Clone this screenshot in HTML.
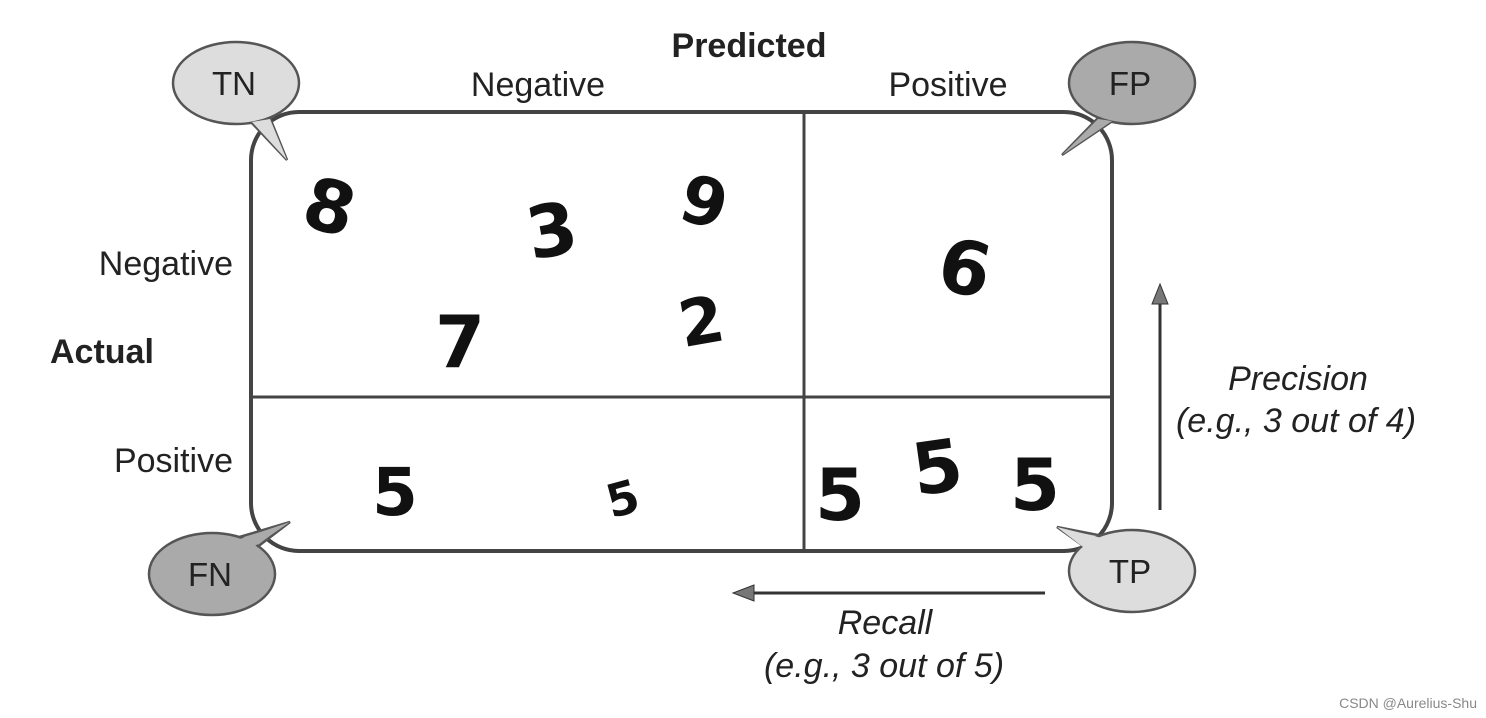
<!DOCTYPE html>
<html><head><style>
body{margin:0;background:#fff;}
svg{display:block;}
text{font-family:"Liberation Sans",sans-serif;fill:#222;}
.d{font-family:"DejaVu Sans","Liberation Sans",sans-serif;font-weight:bold;fill:#111;}
</style></head><body>
<svg width="1486" height="718" viewBox="0 0 1486 718">
<rect x="251" y="112" width="861" height="439" rx="48" fill="none" stroke="#444" stroke-width="4"/>
<line x1="804" y1="112" x2="804" y2="551" stroke="#444" stroke-width="3"/>
<line x1="251" y1="397" x2="1112" y2="397" stroke="#444" stroke-width="3"/>

<text x="749" y="57" font-size="34" font-weight="bold" text-anchor="middle">Predicted</text>
<text x="538" y="96" font-size="34" text-anchor="middle">Negative</text>
<text x="948" y="96" font-size="34" text-anchor="middle">Positive</text>
<text x="233" y="275" font-size="34" text-anchor="end">Negative</text>
<text x="233" y="472" font-size="34" text-anchor="end">Positive</text>
<text x="50" y="363" font-size="34" font-weight="bold">Actual</text>
<text x="1298" y="390" font-size="34" font-style="italic" text-anchor="middle">Precision</text>
<text x="1296" y="432" font-size="34" font-style="italic" text-anchor="middle">(e.g., 3 out of 4)</text>
<text x="885" y="634" font-size="34" font-style="italic" text-anchor="middle">Recall</text>
<text x="884" y="677" font-size="34" font-style="italic" text-anchor="middle">(e.g., 3 out of 5)</text>
<text x="1477" y="708" font-size="14" text-anchor="end" style="fill:#888">CSDN @Aurelius-Shu</text>

<!-- arrows -->
<line x1="1160" y1="510" x2="1160" y2="300" stroke="#333" stroke-width="3"/>
<polygon points="1160,284 1152,304 1168,304" fill="#777" stroke="#333" stroke-width="1"/>
<line x1="1045" y1="593" x2="750" y2="593" stroke="#333" stroke-width="3"/>
<polygon points="733,593 754,585 754,601" fill="#777" stroke="#333" stroke-width="1"/>

<!-- bubbles -->
<g stroke="#555" stroke-width="2.5">
<path d="M270,118 L287,160 L250,121" fill="#ddd"/>
<ellipse cx="236" cy="83" rx="63" ry="41" fill="#ddd"/>
<path d="M1098,118 L1062,155 L1114,120" fill="#aaa"/>
<ellipse cx="1132" cy="83" rx="63" ry="41" fill="#aaa"/>
<path d="M236,538 L290,522 L256,548" fill="#aaa"/>
<ellipse cx="212" cy="574" rx="63" ry="41" fill="#aaa"/>
<path d="M1082,545 L1057,527 L1103,536" fill="#ddd"/>
<ellipse cx="1132" cy="571" rx="63" ry="41" fill="#ddd"/>
</g>
<g stroke="none">
<path d="M270,119 L287,160 L252,122 Z" fill="#ddd"/>
<path d="M1098,119 L1062,155 L1112,121 Z" fill="#aaa"/>
<path d="M237,540 L290,522 L255,546 Z" fill="#aaa"/>
<path d="M1083,547 L1057,527 L1102,538 Z" fill="#ddd"/>
</g>
<text x="234" y="95" font-size="33" text-anchor="middle">TN</text>
<text x="1130" y="95" font-size="33" text-anchor="middle">FP</text>
<text x="210" y="586" font-size="33" text-anchor="middle">FN</text>
<text x="1130" y="583" font-size="33" text-anchor="middle">TP</text>

<!-- digits -->
<text class="d" x="305" y="232" font-size="72" transform="rotate(15 330 205)">8</text>
<text class="d" x="525" y="255" font-size="72" transform="rotate(-10 555 220)">3</text>
<text class="d" x="683" y="225" font-size="66" transform="rotate(15 705 195)">9</text>
<text class="d" x="435" y="367" font-size="72">7</text>
<text class="d" x="678" y="343" font-size="64" font-weight="normal" transform="rotate(-10 705 315)">2</text>
<text class="d" x="940" y="296" font-size="74" transform="rotate(12 975 265)">6</text>
<text class="d" x="372" y="515" font-size="66" font-weight="normal">5</text>
<text class="d" x="605" y="510" font-size="46" font-weight="normal" transform="rotate(-15 640 490)">5</text>
<text class="d" x="815" y="520" font-size="72" font-weight="normal">5</text>
<text class="d" x="912" y="492" font-size="72" transform="rotate(-8 940 465)">5</text>
<text class="d" x="1010" y="510" font-size="72">5</text>
</svg>
</body></html>
